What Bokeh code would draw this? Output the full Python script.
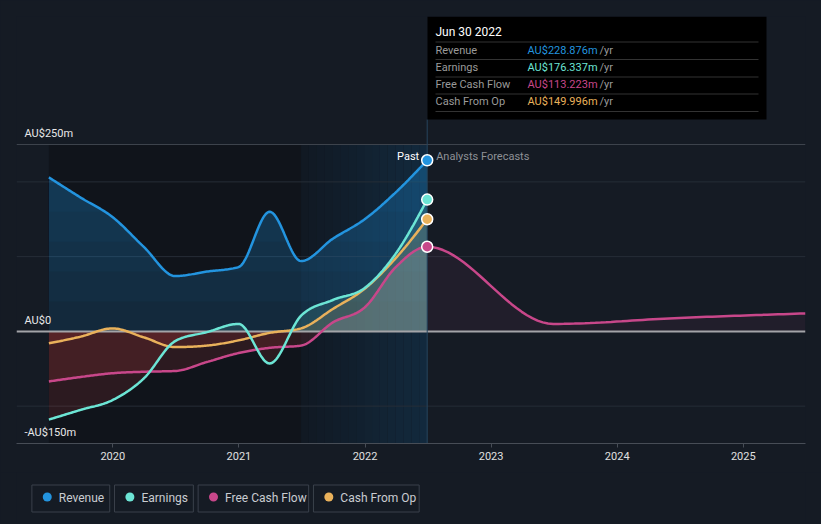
import numpy as np
import pandas as pd
from bokeh.plotting import figure
from bokeh.models import Range1d, FixedTicker
from bokeh.layouts import column
from bokeh.core.properties import value
from bokeh.embed import file_html
from bokeh.resources import INLINE

# ---------------- data ----------------
past_dates = ["2019-06-30", "2019-09-30", "2019-12-31", "2020-03-31", "2020-06-30",
              "2020-09-30", "2020-12-31", "2021-03-31", "2021-06-30", "2021-09-30",
              "2021-12-31", "2022-03-31", "2022-06-30"]
revenue = [206, 179, 153, 113, 74, 80, 86, 160, 94, 124, 150, 186, 228.876]
earnings = [-118, -105, -92, -63, -13, -1, 10, -43, 21, 42, 58, 104, 176.337]
free_cash_flow = [-67, -61, -56, -54, -53, -41, -29, -22, -19, 12, 32, 86, 113.223]
cash_from_op = [-16, -7, 4, -8, -21, -19, -12, -2, 4, 30, 57, 98, 149.996]

forecast_dates = ["2023-06-30", "2024-06-30", "2025-06-30"]
fcf_forecast = [10, 18, 24]

series_names = ["Revenue", "Earnings", "Free Cash Flow", "Cash From Op"]
x_tick_values = [2020, 2021, 2022, 2023, 2024, 2025]
x_tick_labels = ["2020", "2021", "2022", "2023", "2024", "2025"]
y_label_values = [250, 0, -150]
y_label_texts = ["AU$250m", "AU$0", "-AU$150m"]
grid_values = [200, 100, -100]
tooltip_date = "Jun 30 2022"
highlight_start = "2021-06-30"

# ---------------- style ----------------
BG = "#151b24"
C_REV = "#2394df"
C_EARN = "#6ce5d5"
C_FCF = "#c8478a"
C_CFO = "#e9b15b"
FONT = value("Roboto")
W = 821


def dec_year(s):
    t = pd.Timestamp(s)
    days = 366 if t.is_leap_year else 365
    return t.year + (t.dayofyear - 1) / days


def monotone(xs, ys, n=24):
    xs = np.asarray(xs, float)
    ys = np.asarray(ys, float)
    m = len(xs)
    h = np.diff(xs)
    s = np.diff(ys) / h
    t = np.zeros(m)
    for i in range(1, m - 1):
        h0, h1 = h[i - 1], h[i]
        s0, s1 = s[i - 1], s[i]
        p_ = (s0 * h1 + s1 * h0) / (h0 + h1)
        sg = (1 if s0 >= 0 else -1) + (1 if s1 >= 0 else -1)
        t[i] = sg * min(abs(s0), abs(s1), 0.5 * abs(p_))
    t[0] = (3 * s[0] - t[1]) / 2
    t[-1] = (3 * s[-1] - t[-2]) / 2
    ox, oy = [], []
    for i in range(m - 1):
        u = np.linspace(0, 1, n, endpoint=(i == m - 2))
        h00 = 2 * u**3 - 3 * u**2 + 1
        h10 = u**3 - 2 * u**2 + u
        h01 = -2 * u**3 + 3 * u**2
        h11 = u**3 - u**2
        oy.append(h00 * ys[i] + h10 * h[i] * t[i] + h01 * ys[i + 1] + h11 * h[i] * t[i + 1])
        ox.append(xs[i] + u * h[i])
    return np.concatenate(ox), np.concatenate(oy)


px = [dec_year(d) for d in past_dates]
fx = [dec_year(d) for d in forecast_dates]
x_last_past = px[-1]
x_hl = dec_year(highlight_start)

# ranges (frame spans page px 16..805 horizontally, 16..443 vertically)
X1 = fx[-1]
PPY = (805 - 112.3) / (X1 - 2020)
X0 = 2020 - (112.3 - 16) / PPY
Y0 = -150.0
PPU = (443 - 144) / (250 - Y0)
Y1 = 250 + (144 - 16) / PPU


def sx2x(sx):
    return X0 + (sx - 16) / (805 - 16) * (X1 - X0)


def sy2y(sy):
    return Y1 - (sy - 16) / (443 - 16) * (Y1 - Y0)


p = figure(width=W, height=472, x_range=Range1d(X0, X1), y_range=Range1d(Y0, Y1),
           output_backend="svg", toolbar_location=None, y_axis_location=None,
           min_border_left=16, min_border_right=16, min_border_top=16, min_border_bottom=29,
           background_fill_color=BG, border_fill_color=BG, outline_line_color=None)
p.xgrid.visible = False
p.ygrid.visible = False

# backgrounds
p.quad(left=[px[0]], right=[x_hl], bottom=[Y0], top=[250], fill_color="#10141b", line_color=None)
n_st = 16
c0 = np.array([17, 25, 35])
c1 = np.array([19, 42, 62])
edges = np.linspace(x_hl, x_last_past, n_st + 1)
cols = ["#%02x%02x%02x" % tuple(int(v) for v in (c0 + (c1 - c0) * (k + 0.5) / n_st)) for k in range(n_st)]
p.quad(left=edges[:-1], right=edges[1:], bottom=[Y0] * n_st, top=[250] * n_st,
       fill_color=cols, line_color=None)

# grid lines
p.segment(x0=[X0] * len(grid_values), x1=[X1] * len(grid_values), y0=grid_values, y1=grid_values,
          line_color="#262d37", line_width=1)
p.segment(x0=[X0], x1=[X1], y0=[250], y1=[250], line_color="#3d434c", line_width=1)

# curves
rx, ry = monotone(px, revenue)
ex, ey = monotone(px, earnings)
cx, cy = monotone(px, cash_from_op)
ffx, ffy = monotone(px + fx, free_cash_flow + fcf_forecast)

# revenue area with vertical fade
p.varea(x=rx, y1=np.zeros_like(ry), y2=ry, fill_color=C_REV, fill_alpha=0.17)
for L in [40, 80, 120, 160, 200]:
    p.varea(x=rx, y1=np.full_like(ry, L), y2=np.maximum(ry, L), fill_color=C_REV, fill_alpha=0.04)

# negative (red) areas
for xx, yy in [(ex, ey), (ffx, ffy), (cx, cy)]:
    p.varea(x=xx, y1=np.zeros_like(yy), y2=np.minimum(yy, 0), fill_color="#b83a3a", fill_alpha=0.17)

# positive areas
mpast = ffx <= x_last_past + 1e-9
mfut = ffx >= x_last_past - 1e-9
p.varea(x=ex, y1=np.zeros_like(ey), y2=np.maximum(ey, 0), fill_color=C_EARN, fill_alpha=0.15)
p.varea(x=cx, y1=np.zeros_like(cy), y2=np.maximum(cy, 0), fill_color=C_CFO, fill_alpha=0.15)
p.varea(x=ffx[mpast], y1=np.zeros(mpast.sum()), y2=np.maximum(ffy[mpast], 0), fill_color="#dddddd", fill_alpha=0.15)
p.varea(x=ffx[mfut], y1=np.zeros(mfut.sum()), y2=np.maximum(ffy[mfut], 0), fill_color=C_FCF, fill_alpha=0.07)

# zero line and separator
p.segment(x0=[X0], x1=[X1], y0=[0], y1=[0], line_color="#a3a4a8", line_width=2)
p.segment(x0=[x_last_past], x1=[x_last_past], y0=[Y0], y1=[sy2y(119)], line_color="#27445e", line_width=1)

# lines
p.line(ffx, ffy, line_color=C_FCF, line_width=2.5)
p.line(cx, cy, line_color=C_CFO, line_width=2.5)
p.line(ex, ey, line_color=C_EARN, line_width=2.5)
p.line(rx, ry, line_color=C_REV, line_width=2.5)

# end markers
p.scatter(x=[x_last_past] * 4, y=[revenue[-1], earnings[-1], cash_from_op[-1], free_cash_flow[-1]],
          size=11, fill_color=[C_REV, C_EARN, C_CFO, C_FCF], line_color="white", line_width=1.5)

# y labels
p.text(x=[X0] * 3, y=y_label_values, text=y_label_texts, x_offset=8, y_offset=-11,
       text_font=FONT, text_font_size="11px", text_color="#e8e8e8",
       text_align="left", text_baseline="middle")

# Past / forecast labels
p.text(x=[x_last_past], y=[250], text=["Past"], x_offset=-8, y_offset=12, text_font=FONT,
       text_font_size="11px", text_color="#ffffff", text_align="right", text_baseline="middle")
p.text(x=[x_last_past], y=[250], text=["Analysts Forecasts"], x_offset=9, y_offset=12, text_font=FONT,
       text_font_size="11px", text_color="#8e9196", text_align="left", text_baseline="middle")

# tooltip box
p.quad(left=[sx2x(427)], right=[sx2x(766)], top=[sy2y(16)], bottom=[sy2y(119)],
       fill_color="#000000", line_color=None)
sep_y = [41.5, 59, 76.5, 93.5, 111]
p.segment(x0=[sx2x(435)] * 5, x1=[sx2x(758)] * 5, y0=[sy2y(v) for v in sep_y],
          y1=[sy2y(v) for v in sep_y], line_color="#333333", line_width=1)
p.text(x=[sx2x(435)], y=[sy2y(31)], text=[tooltip_date], text_font=FONT, text_font_size="12px",
       text_color="#ffffff", text_align="left", text_baseline="middle")
row_y = [sy2y(v) for v in [49.5, 66.5, 84, 101]]
vals = [revenue[-1], earnings[-1], free_cash_flow[-1], cash_from_op[-1]]
p.text(x=[sx2x(435)] * 4, y=row_y, text=series_names, text_font=FONT, text_font_size="11px",
       text_color="#9a9a9a", text_align="left", text_baseline="middle")
p.text(x=[sx2x(527)] * 4, y=row_y, text=["AU$%.3fm" % v for v in vals], text_font=FONT,
       text_font_size="11px", text_color=[C_REV, C_EARN, C_FCF, C_CFO],
       text_align="left", text_baseline="middle")
p.text(x=[sx2x(599)] * 4, y=row_y, text=["/yr"] * 4, text_font=FONT, text_font_size="11px",
       text_color="#9a9a9a", text_align="left", text_baseline="middle")

# x axis
p.xaxis.ticker = FixedTicker(ticks=x_tick_values)
p.xaxis.major_label_overrides = {v: l for v, l in zip(x_tick_values, x_tick_labels)}
p.xaxis.axis_line_color = "#474d56"
p.xaxis.major_tick_line_color = "#474d56"
p.xaxis.major_tick_out = 4
p.xaxis.major_tick_in = 0
p.xaxis.minor_tick_line_color = None
p.xaxis.major_label_text_color = "#e0e0e0"
p.xaxis.major_label_text_font = "Roboto"
p.xaxis.major_label_text_font_size = "11px"
p.xaxis.major_label_standoff = 4

# ---------------- legend figure ----------------
lf = figure(width=W, height=50, x_range=Range1d(0, W), y_range=Range1d(50, 0),
            output_backend="svg", toolbar_location=None, x_axis_location=None, y_axis_location=None,
            min_border=0, background_fill_color=BG, border_fill_color=BG, outline_line_color=None)
lf.grid.visible = False
box_l = [16, 102, 189, 309]
box_r = [97, 184, 304, 419]
lf.quad(left=box_l, right=box_r, top=[12.5] * 4, bottom=[39.5] * 4, fill_color=BG,
        line_color="#3a414b", line_width=1)
lf.scatter(x=[l + 16 for l in box_l], y=[24.5] * 4, size=9, fill_color=[C_REV, C_EARN, C_FCF, C_CFO],
           line_color=None)
lf.text(x=[l + 28 for l in box_l], y=[25] * 4, text=series_names, text_font=FONT,
        text_font_size="12px", text_color="#c9ccd1", text_align="left", text_baseline="middle")

layout = column(p, lf, spacing=0)
html = file_html(layout, INLINE, title="chart")
html = html.replace("</head>", "<style>html,body{background:#151b24;}</style></head>", 1)
open("out.html", "w").write(html)
